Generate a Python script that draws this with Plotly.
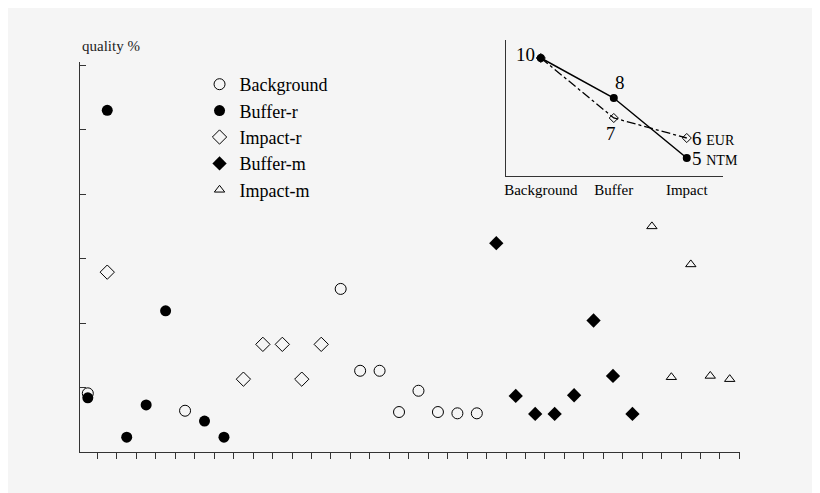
import plotly.graph_objects as go

# main panel: sample index along x, quality value on y
bg_x = [0, 5, 13, 14, 15, 16, 17, 18, 19, 20]
bg_y = [9.1, 6.4, 25.3, 12.6, 12.6, 6.2, 9.5, 6.2, 6.0, 6.0]
bufr_x = [0, 1, 2, 3, 4, 6, 7]
bufr_y = [8.4, 53.0, 2.3, 7.3, 21.9, 4.8, 2.3]
impr_x = [1, 8, 9, 10, 11, 12]
impr_y = [27.9, 11.3, 16.7, 16.7, 11.3, 16.7]
bufm_x = [21, 22, 23, 24, 25, 26, 27, 28]
bufm_y = [32.4, 8.7, 5.9, 5.9, 8.8, 20.4, 11.8, 5.9]
impm_x = [29, 30, 31, 32, 33]
impm_y = [35.0, 11.6, 29.1, 11.8, 11.3]

# inset: ratings per zone
zones = ["Background", "Buffer", "Impact"]
ntm = [10, 8, 5]
eur = [10, 7, 6]

serif = "Liberation Serif"
W, H = 820, 493
O = 8  # page body margin shifts the figure

def px(v):
    return (v - O) / W

def py(v):
    return 1 - (v - O) / H

fig = go.Figure()
mk = dict(color="black", width=1)
fig.add_trace(go.Scatter(x=bg_x, y=bg_y, mode="markers", name="Background",
                         marker=dict(symbol="circle-open", size=11, color="black", line=mk)))
fig.add_trace(go.Scatter(x=bufr_x, y=bufr_y, mode="markers", name="Buffer-r",
                         marker=dict(symbol="circle", size=11, color="black")))
fig.add_trace(go.Scatter(x=impr_x, y=impr_y, mode="markers", name="Impact-r",
                         marker=dict(symbol="diamond-open", size=11, color="black", line=mk)))
fig.add_trace(go.Scatter(x=bufm_x, y=bufm_y, mode="markers", name="Buffer-m",
                         marker=dict(symbol="diamond", size=11, color="black")))
fig.add_trace(go.Scatter(x=impm_x, y=impm_y, mode="markers", name="Impact-m",
                         marker=dict(symbol="triangle-up-open", size=9, color="black", line=mk)))

xi = [0, 1, 2]
fig.add_trace(go.Scatter(x=xi, y=eur, xaxis="x2", yaxis="y2", mode="lines+markers",
                         line=dict(color="black", width=1.3, dash="dashdot"),
                         marker=dict(symbol="diamond-open", size=7, color="black", line=mk),
                         showlegend=False))
fig.add_trace(go.Scatter(x=xi, y=ntm, xaxis="x2", yaxis="y2", mode="lines+markers",
                         line=dict(color="black", width=1.5),
                         marker=dict(symbol="circle", size=8, color="black"),
                         showlegend=False))

ann = [
    dict(x=0, y=ntm[0], text=str(ntm[0]), xanchor="right", xshift=-4, yshift=4),
    dict(x=1, y=ntm[1], text=str(ntm[1]), yanchor="bottom", xshift=6, yshift=3),
    dict(x=1, y=eur[1], text=str(eur[1]), yanchor="top", xshift=-3, yshift=-3),
    dict(x=2, y=eur[2], text=str(eur[2]) + " <span style='font-size:14px'>EUR</span>",
         xanchor="left", xshift=3),
    dict(x=2, y=ntm[2], text=str(ntm[2]) + " <span style='font-size:14px'>NTM</span>",
         xanchor="left", xshift=3),
]
for a in ann:
    a.update(xref="x2", yref="y2", showarrow=False, font=dict(family=serif, size=19, color="black"))
fig.update_layout(annotations=ann + [
    dict(x=px(78), y=py(36), xref="paper", yref="paper", text="quality %", showarrow=False,
         xanchor="left", font=dict(family=serif, size=15, color="#222"))])

fig.update_layout(
    width=W, height=H, margin=dict(l=0, r=0, t=0, b=0),
    paper_bgcolor="#f5f5f5", plot_bgcolor="#f5f5f5",
    font=dict(family=serif, color="black"),
    xaxis=dict(domain=[px(78), px(740)], range=[-0.41, 33.54], showgrid=False, zeroline=False,
               showline=True, linecolor="#333", linewidth=1,
               tickvals=[i + 0.5 for i in range(34)], ticks="outside", ticklen=6,
               tickcolor="#333", showticklabels=False),
    yaxis=dict(domain=[py(452), py(62)], range=[0, 60.5], showgrid=False, zeroline=False,
               showline=True, linecolor="#333", linewidth=1,
               tickvals=[0, 10, 20, 30, 40, 50, 60], ticks="inside", ticklen=6,
               tickcolor="#333", showticklabels=False),
    xaxis2=dict(domain=[px(505), px(723)], range=[-0.48, 2.5], anchor="y2", showgrid=False,
                zeroline=False, showline=True, linecolor="#333", tickvals=xi, ticktext=zones,
                ticks="", tickfont=dict(size=15)),
    yaxis2=dict(domain=[py(176), py(40)], range=[4.1, 10.9], anchor="x2", showgrid=False,
                zeroline=False, showline=True, linecolor="#333", showticklabels=False, ticks=""),
    legend=dict(x=px(198), y=py(66), xanchor="left", yanchor="top", bgcolor="rgba(0,0,0,0)",
                font=dict(family=serif, size=18), tracegroupgap=0),
)

fig.write_html("out.html")
